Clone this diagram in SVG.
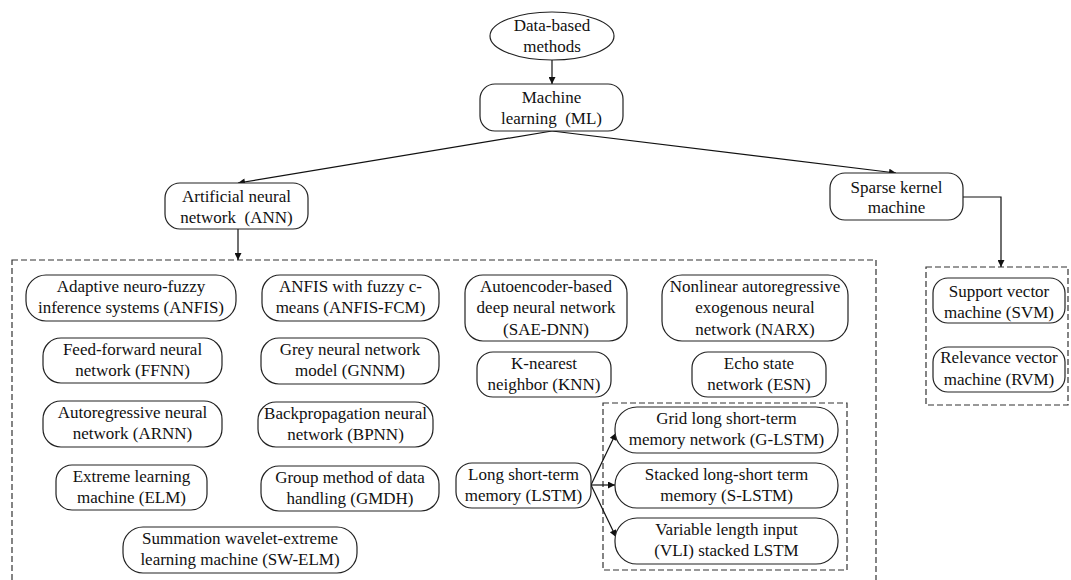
<svg xmlns="http://www.w3.org/2000/svg" width="1071" height="580" viewBox="0 0 1071 580">
  <style>
    .box { fill: #ffffff; stroke: #222222; stroke-width: 1.2; }
    .grp { fill: none; stroke: #333333; stroke-width: 1.2; stroke-dasharray: 6 3; }
    .t { font-family: "Liberation Serif", "Times New Roman", serif; font-size: 17px; fill: #111111; text-anchor: middle; }
    .pre { white-space: pre; }
    .edge { fill: none; stroke: #111111; stroke-width: 1.2; }
  </style>
  <defs>
    <marker id="arrow" viewBox="0 0 10 10" refX="10" refY="5" markerWidth="9" markerHeight="7" markerUnits="userSpaceOnUse" orient="auto">
      <path d="M0,0 L10,5 L0,10 Z" fill="#111111"/>
    </marker>
  </defs>
  <rect width="1071" height="580" fill="#ffffff"/>

  <!-- dashed grouping frames -->
  <g id="groups">
    <rect class="grp" x="12" y="260" width="864" height="340"/>
    <rect class="grp" x="603" y="403" width="244" height="167"/>
    <rect class="grp" x="926" y="267" width="142" height="138"/>
  </g>

  <!-- connectors -->
  <g id="connectors">
    <line class="edge" x1="552" y1="60" x2="552" y2="84" marker-end="url(#arrow)"/>
    <line class="edge" x1="552" y1="131" x2="238" y2="183" marker-end="url(#arrow)"/>
    <line class="edge" x1="552" y1="131" x2="896" y2="173" marker-end="url(#arrow)"/>
    <line class="edge" x1="238" y1="229" x2="238" y2="260" marker-end="url(#arrow)"/>
    <polyline class="edge" points="963,197 1001,197 1001,267" marker-end="url(#arrow)"/>
    <line class="edge" x1="591" y1="485" x2="616" y2="433" marker-end="url(#arrow)"/>
    <line class="edge" x1="591" y1="485" x2="615" y2="485" marker-end="url(#arrow)"/>
    <line class="edge" x1="591" y1="485" x2="616" y2="537" marker-end="url(#arrow)"/>
  </g>

  <g id="data-based">
    <ellipse class="box" cx="552" cy="36" rx="62" ry="24"/>
    <text class="t" x="552" y="31">Data-based</text>
    <text class="t" x="552" y="52">methods</text>
  </g>

  <g id="ml">
    <rect class="box" x="480" y="84" width="143" height="47" rx="15"/>
    <text class="t" x="551.5" y="103">Machine</text>
    <text class="t pre" x="551.5" y="124">learning  (ML)</text>
  </g>

  <g id="ann">
    <rect class="box" x="165" y="183" width="143" height="46" rx="15"/>
    <text class="t" x="236.5" y="202">Artificial neural</text>
    <text class="t pre" x="236.5" y="223">network  (ANN)</text>
  </g>

  <g id="sparse-kernel">
    <rect class="box" x="830" y="173" width="133" height="47" rx="15"/>
    <text class="t" x="896.5" y="193">Sparse kernel</text>
    <text class="t" x="896.5" y="213">machine</text>
  </g>

  <g id="svm">
    <rect class="box" x="933" y="278" width="132" height="45" rx="15"/>
    <text class="t" x="999" y="297">Support vector</text>
    <text class="t" x="999" y="318">machine (SVM)</text>
  </g>

  <g id="rvm">
    <rect class="box" x="933" y="347" width="132" height="45" rx="15"/>
    <text class="t" x="999" y="363">Relevance vector</text>
    <text class="t" x="999" y="385">machine (RVM)</text>
  </g>

  <g id="anfis">
    <rect class="box" x="26" y="275" width="210" height="46" rx="20"/>
    <text class="t" x="131" y="292">Adaptive neuro-fuzzy</text>
    <text class="t" x="131" y="313">inference systems (ANFIS)</text>
  </g>

  <g id="ffnn">
    <rect class="box" x="43" y="338" width="179" height="45" rx="18"/>
    <text class="t" x="132.5" y="355">Feed-forward neural</text>
    <text class="t" x="132.5" y="376">network (FFNN)</text>
  </g>

  <g id="arnn">
    <rect class="box" x="43" y="401" width="179" height="46" rx="18"/>
    <text class="t" x="132.5" y="418">Autoregressive neural</text>
    <text class="t" x="132.5" y="439">network (ARNN)</text>
  </g>

  <g id="elm">
    <rect class="box" x="56" y="465" width="151" height="45" rx="16"/>
    <text class="t" x="131.5" y="482">Extreme learning</text>
    <text class="t" x="131.5" y="503">machine (ELM)</text>
  </g>

  <g id="sw-elm">
    <rect class="box" x="123" y="527" width="234" height="46" rx="20"/>
    <text class="t" x="240" y="544">Summation wavelet-extreme</text>
    <text class="t" x="240" y="565">learning machine (SW-ELM)</text>
  </g>

  <g id="anfis-fcm">
    <rect class="box" x="262" y="275" width="177" height="46" rx="18"/>
    <text class="t" x="350.5" y="292">ANFIS with fuzzy c-</text>
    <text class="t" x="350.5" y="313">means (ANFIS-FCM)</text>
  </g>

  <g id="gnnm">
    <rect class="box" x="261" y="338" width="178" height="46" rx="18"/>
    <text class="t" x="350" y="355">Grey neural network</text>
    <text class="t" x="350" y="376">model (GNNM)</text>
  </g>

  <g id="bpnn">
    <rect class="box" x="258" y="402" width="175" height="45" rx="18"/>
    <text class="t" x="345.5" y="419">Backpropagation neural</text>
    <text class="t" x="345.5" y="440">network (BPNN)</text>
  </g>

  <g id="gmdh">
    <rect class="box" x="261" y="466" width="178" height="45" rx="18"/>
    <text class="t" x="350" y="483">Group method of data</text>
    <text class="t" x="350" y="504">handling (GMDH)</text>
  </g>

  <g id="sae-dnn">
    <rect class="box" x="465" y="275" width="162" height="66" rx="18"/>
    <text class="t" x="546" y="292">Autoencoder-based</text>
    <text class="t" x="546" y="313">deep neural network</text>
    <text class="t" x="546" y="335">(SAE-DNN)</text>
  </g>

  <g id="knn">
    <rect class="box" x="477" y="352" width="134" height="45" rx="16"/>
    <text class="t" x="544" y="369">K-nearest</text>
    <text class="t" x="544" y="390">neighbor (KNN)</text>
  </g>

  <g id="narx">
    <rect class="box" x="662" y="275" width="186" height="66" rx="20"/>
    <text class="t" x="755" y="292">Nonlinear autoregressive</text>
    <text class="t" x="755" y="313">exogenous neural</text>
    <text class="t" x="755" y="335">network (NARX)</text>
  </g>

  <g id="esn">
    <rect class="box" x="692" y="352" width="134" height="45" rx="16"/>
    <text class="t" x="759" y="369">Echo state</text>
    <text class="t" x="759" y="390">network (ESN)</text>
  </g>

  <g id="lstm">
    <rect class="box" x="456" y="463" width="135" height="45" rx="16"/>
    <text class="t" x="523.5" y="480">Long short-term</text>
    <text class="t" x="523.5" y="501">memory (LSTM)</text>
  </g>

  <g id="g-lstm">
    <rect class="box" x="615" y="407" width="223" height="46" rx="22"/>
    <text class="t" x="726.5" y="424">Grid long short-term</text>
    <text class="t" x="726.5" y="445">memory network (G-LSTM)</text>
  </g>

  <g id="s-lstm">
    <rect class="box" x="615" y="463" width="223" height="45" rx="22"/>
    <text class="t" x="726.5" y="480">Stacked long-short term</text>
    <text class="t" x="726.5" y="501">memory (S-LSTM)</text>
  </g>

  <g id="vli-lstm">
    <rect class="box" x="615" y="518" width="223" height="46" rx="22"/>
    <text class="t" x="726.5" y="535">Variable length input</text>
    <text class="t" x="726.5" y="556">(VLI) stacked LSTM</text>
  </g>
</svg>
